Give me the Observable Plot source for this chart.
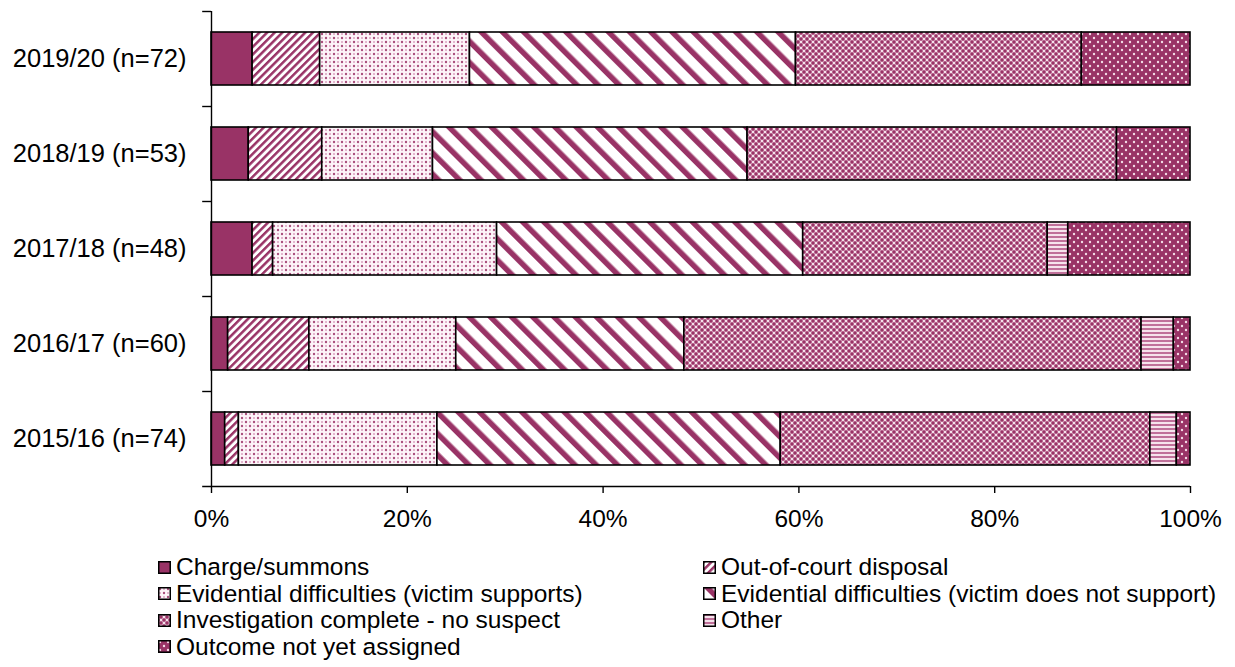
<!DOCTYPE html>
<html>
<head>
<meta charset="utf-8">
<script src="https://cdn.jsdelivr.net/npm/d3@7"></script>
<script src="https://cdn.jsdelivr.net/npm/@observablehq/plot@0.6"></script>
<style>
  html, body { margin: 0; padding: 0; background: #fff; }
  body { width: 1235px; height: 667px; position: relative; overflow: hidden;
         font-family: Arial, "Liberation Sans", sans-serif; color: #000; }
  #chart { position: absolute; left: 0; top: 0; }
  #legend { position: absolute; left: 158px; top: 554px; display: grid;
            grid-template-columns: 545px auto; font-size: 24.5px; line-height: 26.5px; }
  .item { display: flex; align-items: center; white-space: nowrap; }
  .item svg { margin-right: 5px; flex: none; }
</style>
</head>
<body>
<div id="chart"></div>
<div id="legend"></div>
<script>
// ---- data (percent of cases) ----
const years = ["2019/20 (n=72)", "2018/19 (n=53)", "2017/18 (n=48)", "2016/17 (n=60)", "2015/16 (n=74)"];
const outcomes = [
  "Charge/summons",
  "Out-of-court disposal",
  "Evidential difficulties (victim supports)",
  "Evidential difficulties (victim does not support)",
  "Investigation complete - no suspect",
  "Other",
  "Outcome not yet assigned"
];
const chargeSummons   = [4.2, 3.8, 4.2, 1.7, 1.4];
const outOfCourt      = [6.9, 7.5, 2.1, 8.3, 1.4];
const evSupports      = [15.3, 11.3, 22.9, 15.0, 20.3];
const evNotSupport    = [33.3, 32.1, 31.3, 23.3, 35.1];
const investigation   = [29.2, 37.7, 25.0, 46.7, 37.8];
const other           = [0, 0, 2.1, 3.3, 2.7];
const notAssigned     = [11.1, 7.5, 12.5, 1.7, 1.4];
const xTicks = [0, 0.2, 0.4, 0.6, 0.8, 1];

const series = [chargeSummons, outOfCourt, evSupports, evNotSupport, investigation, other, notAssigned];
const data = [];
years.forEach((year, yi) => {
  outcomes.forEach((outcome, oi) => {
    const v = series[oi][yi];
    if (v > 0) data.push({year, outcome, value: v});
  });
});

// ---- patterns ----
const C = "#993366";
const fills = ["#993366", "url(#p-ooc)", "url(#p-evs)", "url(#p-evn)", "url(#p-inv)", "url(#p-oth)", "url(#p-nya)"];
const defsMarkup = `
  <pattern id="p-ooc" patternUnits="userSpaceOnUse" width="5.4" height="5.4" patternTransform="rotate(45)">
    <rect width="5.4" height="5.4" fill="#fff"/><rect width="2.5" height="5.4" fill="${C}"/>
  </pattern>
  <pattern id="p-evn" patternUnits="userSpaceOnUse" width="15" height="15" patternTransform="rotate(-45)">
    <rect width="15" height="15" fill="#fff"/><rect width="5.5" height="15" fill="${C}"/>
  </pattern>
  <pattern id="p-evs" patternUnits="userSpaceOnUse" width="8" height="8">
    <rect width="8" height="8" fill="#fdf5f9"/>
    <circle cx="2" cy="2" r="1.2" fill="${C}" fill-opacity="0.85"/>
    <circle cx="6" cy="6" r="1.2" fill="${C}" fill-opacity="0.85"/>
    <circle cx="6" cy="2" r="1" fill="#d9a3c0"/>
    <circle cx="2" cy="6" r="1" fill="#d9a3c0"/>
  </pattern>
  <pattern id="p-inv" patternUnits="userSpaceOnUse" width="6" height="6">
    <rect width="6" height="6" fill="#dca7c2"/>
    <circle cx="0" cy="0" r="1.7" fill="${C}"/><circle cx="6" cy="0" r="1.7" fill="${C}"/>
    <circle cx="0" cy="6" r="1.7" fill="${C}"/><circle cx="6" cy="6" r="1.7" fill="${C}"/>
    <circle cx="3" cy="3" r="1.7" fill="${C}"/>
    <circle cx="3" cy="0" r="0.9" fill="#fff"/><circle cx="0" cy="3" r="0.9" fill="#fff"/>
    <circle cx="6" cy="3" r="0.9" fill="#fff"/><circle cx="3" cy="6" r="0.9" fill="#fff"/>
  </pattern>
  <pattern id="p-oth" patternUnits="userSpaceOnUse" width="4" height="4">
    <rect width="4" height="4" fill="#f6e3ec"/><rect width="4" height="2" fill="#c0709a"/>
  </pattern>
  <pattern id="p-nya" patternUnits="userSpaceOnUse" width="8" height="8">
    <rect width="8" height="8" fill="${C}"/>
    <circle cx="2" cy="2" r="1.2" fill="#f5dbe7"/>
    <circle cx="6" cy="6" r="1.2" fill="#f5dbe7"/>
  </pattern>`;

// ---- layout ----
const W = 1235, H = 545, mt = 11, mb = 59;
const step = (H - mt - mb) / years.length;

const chart = Plot.plot({
  width: W,
  height: H,
  marginLeft: 211,
  marginRight: 45,
  marginTop: mt,
  marginBottom: mb,
  style: { fontFamily: "Arial, 'Liberation Sans', sans-serif", fontSize: "24.5px", color: "#000", background: "#fff", overflow: "visible" },
  x: { domain: [0, 1], ticks: xTicks, tickFormat: d3.format(".0%"), label: null },
  y: { domain: years, paddingInner: 0.44, paddingOuter: 0.22, label: null },
  color: { type: "ordinal", domain: outcomes, range: fills },
  marks: [
    Plot.barX(data, Plot.stackX({
      x: "value", y: "year", fill: "outcome", offset: "normalize",
      stroke: "#000", strokeWidth: 1.6
    })),
    Plot.ruleX([0], { stroke: "#000", strokeWidth: 1.4 }),
    Plot.ruleY(years, { y: d => d, dy: -step / 2, x1: -0.009, x2: 0, stroke: "#000", strokeWidth: 1.4 }),
    Plot.ruleY([years[years.length - 1]], { y: d => d, dy: step / 2, x1: -0.009, x2: 1, stroke: "#000", strokeWidth: 1.4 }),
    Plot.axisX({ ticks: xTicks, tickFormat: d3.format(".0%"), label: null, tickSize: 7, tickPadding: 16, stroke: "#000", strokeWidth: 1.4, fill: "#000" }),
    Plot.axisY({ label: null, tickSize: 0, tickPadding: 25, fill: "#000", fontSize: 25.5 })
  ]
});

const defs = document.createElementNS("http://www.w3.org/2000/svg", "defs");
defs.innerHTML = defsMarkup;
chart.insertBefore(defs, chart.firstChild);
document.getElementById("chart").appendChild(chart);

// ---- legend ----
const legend = document.getElementById("legend");
outcomes.forEach((name, i) => {
  const item = document.createElement("div");
  item.className = "item";
  item.innerHTML = `<svg width="13" height="13"><rect x="0.75" y="0.75" width="11.5" height="11.5" fill="${fills[i]}" stroke="#000" stroke-width="1.5"/></svg><span>${name}</span>`;
  legend.appendChild(item);
});
</script>
</body>
</html>
